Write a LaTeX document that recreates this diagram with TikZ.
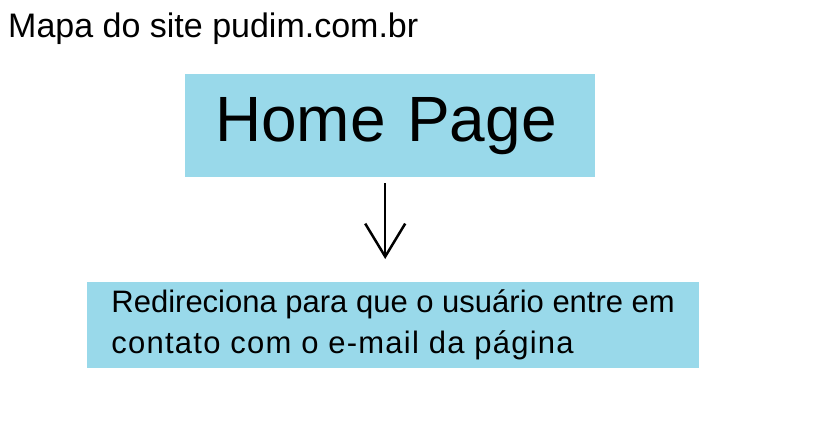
\documentclass[tikz,border=0pt]{standalone}
\usepackage{fontspec}
\setmainfont{Liberation Sans}
\usetikzlibrary{arrows.meta}
\definecolor{paintblue}{RGB}{153,217,234}

\begin{document}
\begin{tikzpicture}[x=1pt, y=-1pt,
		pagebox/.style={fill=paintblue, draw=none, anchor=north west, align=left},
		stick/.style={line width=2.5pt, -{Straight Barb[length=33pt, width=40pt, line width=2.5pt]}}]
		%%%%% START %%%%%
		
		\useasboundingbox (0, 0) rectangle (814, 434);
		
		\node[anchor=base west, inner sep=0pt, font=\fontsize{34}{40}\selectfont] (title) at (8, 37) {Mapa do site pudim.com.br};
		
		\node[pagebox, minimum width=410pt, minimum height=103pt, inner xsep=30pt, text width=350pt, font=\fontsize{64}{70}\selectfont] (home) at (185, 74) {Home Page};
		
		\node[pagebox, minimum width=612pt, minimum height=86pt, font=\fontsize{31}{41}\selectfont] (redirect) at (87, 282) {Redireciona para que o usuário entre em\hspace{6pt}\\{\addfontfeature{LetterSpace=4}contato com o e-mail da página}};
		
		\draw[stick, shorten <=6pt, shorten >=23pt] ([xshift=-5pt]home.south) -- ([xshift=-5pt]home.south |- redirect.north);
		
		%%%%% END %%%%%
	\end{tikzpicture}
\end{document}
